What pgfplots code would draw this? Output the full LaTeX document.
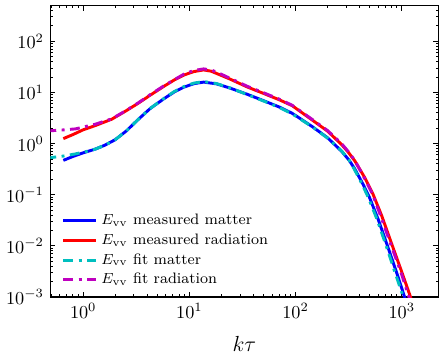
\documentclass[border=0pt]{standalone}
\usepackage{pgfplots}
\pgfplotsset{compat=1.18}
\definecolor{mplblue}{rgb}{0,0,1}
\definecolor{mplred}{rgb}{1,0,0}
\definecolor{mplc}{rgb}{0,0.75,0.75}
\definecolor{mplm}{rgb}{0.75,0,0.75}
\begin{document}
\begin{tikzpicture}
\begin{axis}[
    xmode=log, ymode=log,
    scale only axis, width=213pt, height=160pt,
    xmin=0.49, xmax=2220, ymin=1e-3, ymax=500,
    tick align=inside, xtick pos=both, ytick pos=both,
    major tick length=2.8pt, minor tick length=1.5pt,
    every tick/.style={black, line width=0.5pt},
    axis line style={line width=0.7pt},
    xlabel={$k\tau$}, xlabel style={font=\large, yshift=-3pt},
    legend style={at={(0.015,0.012)}, anchor=south west, draw=none, fill=none,
        font=\fontsize{8.3}{10}\selectfont, row sep=0pt,
        nodes={inner ysep=1.6pt, text height=6pt, text depth=1.6pt}},
    legend cell align=left,
    legend image code/.code={\draw[#1] (0pt,0pt) -- (11pt,0pt); \path (0pt,0pt) -- (18pt,0pt);},
    fitline/.style={line width=1.6pt, dash pattern=on 5.4pt off 3pt on 1.6pt off 3pt},
  ]
  % measured matter
  \addplot[mplblue, line width=1.6pt] coordinates {
    (0.65,0.47)(0.8,0.56)(1.0,0.66)(1.3,0.78)(1.6,0.93)(2.0,1.19)(2.56,1.78)
    (3.26,2.9)(4.3,4.9)(5.8,7.6)(7.2,10.2)(8.9,12.7)(11,14.8)(13.6,15.9)
    (18,14.7)(24,12.2)(35,9.2)(49,7.0)(70,5.2)(93,3.9)(143,2.16)(200,1.3)
    (271,0.71)(320,0.47)(361,0.32)(430,0.163)(495,0.09)(600,0.033)(735,0.0099)
    (900,0.0029)(1064,0.001)(1150,0.0005)};
  % measured radiation
  \addplot[mplred, line width=1.6pt] coordinates {
    (0.65,1.25)(0.8,1.5)(1.0,1.86)(1.3,2.25)(1.86,3.0)(2.5,4.3)(3.28,6.1)
    (4.3,8.9)(5.8,13.3)(7.2,17.5)(8.9,21.9)(11,25.5)(13.6,27.5)(16,26)
    (18,23.5)(24,18.3)(35,12.8)(49,9.7)(70,7.2)(93,5.5)(143,2.9)(200,1.75)
    (271,0.96)(315,0.67)(361,0.46)(446,0.22)(534,0.105)(650,0.038)
    (818,0.0099)(1000,0.0031)(1210,0.001)(1300,0.0006)};
  % fit matter
  \addplot[mplc, fitline] coordinates {
    (0.45,0.52)(0.65,0.57)(0.85,0.63)(1.1,0.71)(1.3,0.78)(1.6,0.93)(2.0,1.19)
    (2.56,1.78)(3.26,2.9)(4.3,4.9)(5.8,7.7)(7.2,10.4)(8.9,13)(11,15.2)
    (13.6,16.3)(18,14.9)(24,12.3)(35,9.1)(49,6.9)(70,5.1)(93,3.8)(143,2.14)
    (200,1.28)(271,0.72)(318,0.48)(356,0.32)(422,0.163)(482,0.09)(585,0.033)
    (715,0.0099)(870,0.0029)(1035,0.001)(1110,0.0005)};
  % fit radiation
  \addplot[mplm, fitline] coordinates {
    (0.45,1.76)(0.65,1.85)(0.85,1.94)(1.3,2.39)(1.86,3.05)(2.5,4.35)(3.28,6.2)
    (4.3,9.1)(5.8,13.6)(8.9,22.8)(11,26.8)(13.6,28.8)(16,27.5)(18,25)
    (24,19)(35,13.2)(49,10)(70,7.4)(93,5.6)(143,2.98)(200,1.8)(271,1.0)
    (315,0.69)(361,0.47)(446,0.21)(534,0.1)(640,0.036)(800,0.0099)
    (980,0.0031)(1170,0.001)(1260,0.0006)};
  \legend{$E_{\mathrm{vv}}$ measured matter,
          $E_{\mathrm{vv}}$ measured radiation,
          $E_{\mathrm{vv}}$ fit matter,
          $E_{\mathrm{vv}}$ fit radiation}
\end{axis}
\path ([shift={(3pt,3pt)}]current axis.north east);
\path ([yshift=-31pt]current axis.south west);
\end{tikzpicture}
\end{document}
